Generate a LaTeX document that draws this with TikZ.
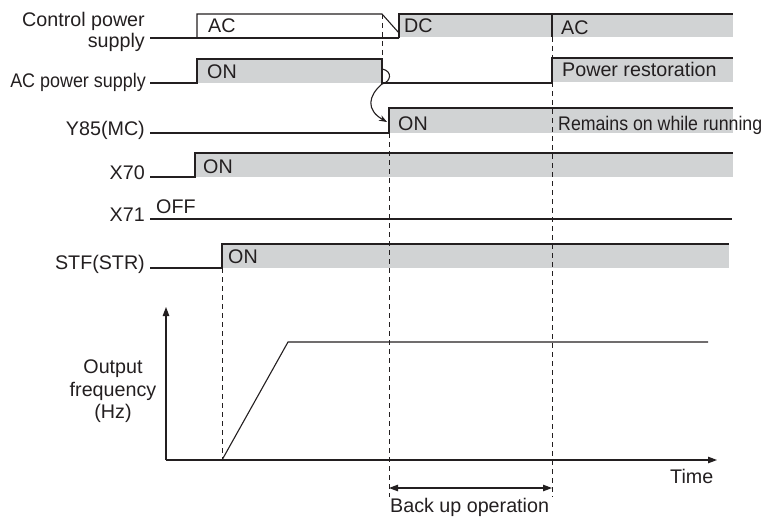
\documentclass[tikz,border=0pt]{standalone}
\usepackage{fontspec}
\setmainfont{Liberation Sans}
\usetikzlibrary{arrows.meta}
\definecolor{ink}{HTML}{231F20}
\definecolor{band}{HTML}{D1D3D4}
\begin{document}
\begin{tikzpicture}[x=1pt,y=-1pt,
  sig/.style={draw=ink, line width=1.1pt, line join=miter},
  dsh/.style={draw=ink, line width=0.9pt, dash pattern=on 5pt off 4pt},
  bandfill/.style={fill=band},
  lbl/.style={anchor=base east, inner sep=0pt, text=ink, font=\fontsize{19.7}{22}\selectfont},
  txt/.style={anchor=base west, inner sep=0pt, text=ink, font=\fontsize{19.7}{22}\selectfont},
  ctr/.style={anchor=base, inner sep=0pt, text=ink, font=\fontsize{19.7}{22}\selectfont},
  tip/.style={-{Triangle[length=9pt,width=6.5pt]}}]
\useasboundingbox (0,0) rectangle (765,519);

% gray bands
\fill[bandfill] (400,14) rectangle (733,37);
\fill[bandfill] (197,59) rectangle (382,83);
\fill[bandfill] (552,58) rectangle (733,82);
\fill[bandfill] (389,108) rectangle (733,133);
\fill[bandfill] (195,153) rectangle (733,177);
\fill[bandfill] (222,244) rectangle (729,268);

% dashed time markers
\draw[dsh] (382,14) -- (382,59);
\draw[dsh] (389,133) -- (389,497);
\draw[dsh] (552,37) -- (552,497);
\draw[dsh] (222,268) -- (222,460);

% Control power supply
\draw[sig] (150,38) -- (399,38);
\draw[sig] (197,38) -- (197,14) -- (382,14) -- (399,33);
\draw[sig] (399,38) -- (399,14) -- (733,14);
\draw[sig] (552,14) -- (552,37);
% AC power supply
\draw[sig] (150,83) -- (197,83) -- (197,59) -- (382,59) -- (382,83) -- (552,83) -- (552,58) -- (733,58);
% Y85(MC)
\draw[sig] (150,133) -- (389,133) -- (389,108) -- (733,108);
% X70
\draw[sig] (150,177) -- (195,177) -- (195,153) -- (733,153);
% X71
\draw[sig] (150,219) -- (732,219);
% STF(STR)
\draw[sig] (150,268) -- (222,268) -- (222,244) -- (729,244);

% curved arrow from AC power loss to Y85 on
\coordinate (c0) at (382,69);
\coordinate (c1) at (382,84);
\coordinate (c2) at (387,122);
\draw[draw=ink, line width=1.1pt, -{Stealth[length=8pt,width=6pt]}]
  (c0) .. controls (393,71) and (391,82) .. (c1)
       .. controls (368,96) and (366,110) .. (c2);

% signal labels
\node[lbl] (lcp1) at (145,27) {Control power};
\node[lbl] (lcp2) at (145,48) {supply};
\node[lbl] (lac) at (146,88) {\scalebox{0.91}[1]{AC power supply}};
\node[lbl] (ly85) at (145,135) {Y85(MC)};
\node[lbl] (lx70) at (145,179) {X70};
\node[lbl] (lx71) at (145,221) {X71};
\node[lbl] (lstf) at (145,269) {STF(STR)};

% in-band texts
\node[txt] (t1) at (208,33) {AC};
\node[txt] (t2) at (404,33) {DC};
\node[txt] (t3) at (561,35) {AC};
\node[txt] (t4) at (207,78) {ON};
\node[txt] (t5) at (562,77) {Power restoration};
\node[txt] (t6) at (398,130) {ON};
\node[txt] (t7) at (558,130) {\scalebox{0.9}[1]{Remains on while running}};
\node[txt] (t8) at (203,173) {ON};
\node[txt] (t9) at (156,213) {OFF};
\node[txt] (t10) at (228,263) {ON};

% output frequency graph
\coordinate (o) at (166,460);
\draw[sig, tip] (o) -- (166,307);
\draw[sig, tip] (o) -- (717,460);
\draw[sig] (222,460) -- (288,342) -- (708,342);
\node[ctr] (yl1) at (113,373) {Output};
\node[ctr] (yl2) at (113,396) {frequency};
\node[ctr] (yl3) at (113,418) {(Hz)};
\node[txt] (tt) at (670,483) {Time};

% back up operation
\draw[draw=ink, line width=1.1pt, {Triangle[length=9pt,width=6.5pt]}-{Triangle[length=9pt,width=6.5pt]}] (389,488) -- (552,488);
\node[txt] (bu) at (390,512) {Back up operation};
\end{tikzpicture}
\end{document}
